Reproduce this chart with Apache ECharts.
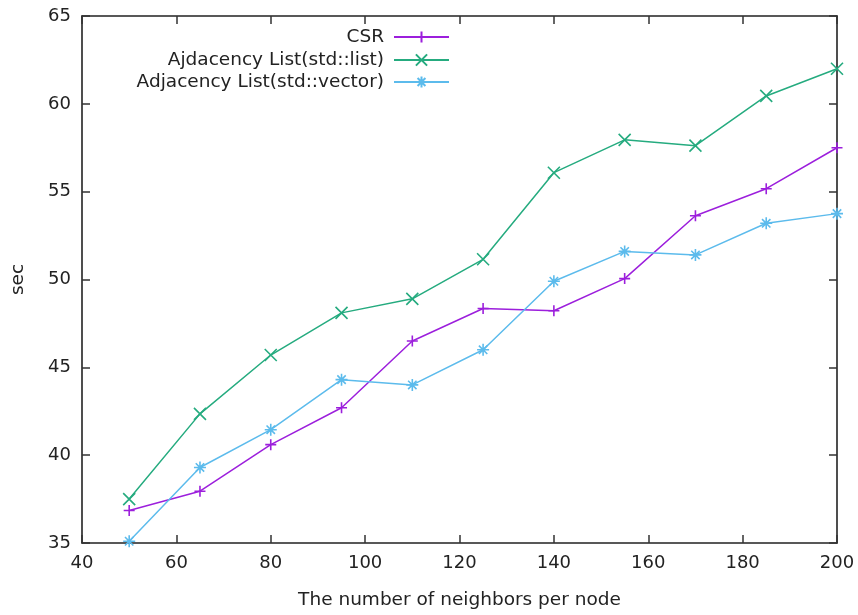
<!DOCTYPE html>
<html>
<head>
<meta charset="utf-8">
<script src="https://cdn.jsdelivr.net/npm/echarts@6/dist/echarts.min.js"></script>
<style>
    html, body { margin: 0; padding: 0; background: #fff; }
    #chart { width: 858px; height: 615px; }
</style>
</head>
<body>
<div id="chart"></div>
<script type="text/javascript">

    var neighbors = [50, 65, 80, 95, 110, 125, 140, 155, 170, 185, 200];
    var csr = [36.85, 37.95, 40.6, 42.7, 46.5, 48.35, 48.22, 50.05, 53.63, 55.17, 57.5];
    var adjList = [37.5, 42.35, 45.7, 48.1, 48.9, 51.15, 56.08, 57.95, 57.62, 60.45, 62.0];
    var adjVector = [35.1, 39.3, 41.45, 44.3, 44.0, 46.0, 49.9, 51.6, 51.4, 53.2, 53.75];

    var names = ['CSR', 'Ajdacency List(std::list)', 'Adjacency List(std::vector)'];
    var colors = ['#9c1fdc', '#25ab7f', '#5cbbec'];
    var marks = [
        'path://M5,0L5,10M0,5L10,5',
        'path://M0,0L10,10M10,0L0,10',
        'path://M5,0L5,10M0,5L10,5M1.5,1.5L8.5,8.5M8.5,1.5L1.5,8.5'
    ];
    var markSize = [11, 12, 12];

    function pairs(ys) {
        return neighbors.map(function (x, i) { return [x, ys[i]]; });
    }

    var font = 'DejaVu Sans';
    var axisLine = { show: true, onZero: false, lineStyle: { color: '#222', width: 1.6 } };
    var tick = { show: true, inside: true, length: 8, lineStyle: { color: '#333', width: 1.5 } };

    var chart = echarts.init(document.getElementById('chart'));
    var values = [csr, adjList, adjVector];

    var series = values.map(function (ys, i) {
        return {
            name: names[i],
            type: 'line',
            data: pairs(ys),
            symbol: marks[i],
            symbolSize: markSize[i],
            showAllSymbol: true,
            lineStyle: { color: colors[i], width: 1.5 },
            itemStyle: { color: colors[i], borderColor: colors[i], borderWidth: 1.6 },
            emphasis: { disabled: true },
            animation: false
        };
    });

    var legendTops = [27, 50, 72];
    var legends = names.map(function (n, i) {
        return {
            data: [n],
            right: 408,
            top: legendTops[i],
            orient: 'vertical',
            align: 'right',
            padding: 0,
            itemWidth: 55,
            itemHeight: 14,
            textStyle: { fontFamily: font, fontSize: 18.5, color: '#222', lineHeight: 20, padding: [0, 5, 0, 0] }
        };
    });

    chart.setOption({
        backgroundColor: '#fff',
        color: colors,
        animation: false,
        legend: legends,
        grid: { left: 82, right: 21, top: 16, bottom: 72 },
        xAxis: [{
            type: 'value',
            min: 40, max: 200, interval: 20,
            name: 'The number of neighbors per node',
            nameLocation: 'middle',
            nameGap: 48,
            nameTextStyle: { fontFamily: font, fontSize: 18.5, color: '#222' },
            axisLine: axisLine,
            axisTick: tick,
            axisLabel: { fontFamily: font, fontSize: 18, color: '#222', margin: 11 },
            splitLine: { show: false }
        }, {
            type: 'value',
            position: 'top',
            min: 40, max: 200, interval: 20,
            axisLine: axisLine,
            axisTick: tick,
            axisLabel: { show: false },
            splitLine: { show: false }
        }],
        yAxis: [{
            type: 'value',
            min: 35, max: 65, interval: 5,
            name: 'sec',
            nameLocation: 'middle',
            nameGap: 54,
            nameRotate: 90,
            nameTextStyle: { fontFamily: font, fontSize: 18.5, color: '#222' },
            axisLine: axisLine,
            axisTick: tick,
            axisLabel: { fontFamily: font, fontSize: 18, color: '#222', margin: 11 },
            splitLine: { show: false }
        }, {
            type: 'value',
            position: 'right',
            min: 35, max: 65, interval: 5,
            axisLine: axisLine,
            axisTick: tick,
            axisLabel: { show: false },
            splitLine: { show: false }
        }],
        series: series
    });

</script>
</body>
</html>
